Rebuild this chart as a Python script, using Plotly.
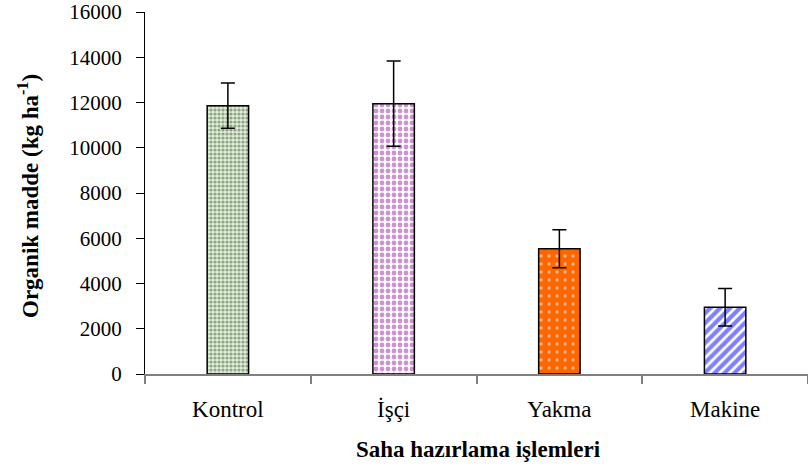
import plotly.graph_objects as go

categories = ["Kontrol", "İşçi", "Yakma", "Makine"]
values = [11860, 11950, 5540, 2950]
errors = [1000, 1880, 840, 830]
y_ticks = [0, 2000, 4000, 6000, 8000, 10000, 12000, 14000, 16000]

pattern_shapes = [".", ".", ".", "/"]
pattern_fg = ["#2f5f2c", "#98289f", "#ffffff", "#0000ff"]
pattern_bg = ["#e2ebd9", "#ffffff", "#ff6600", "#ffffff"]
pattern_size = [4, 6, 8, 7]
pattern_solidity = [0.5, 0.5, 0.15, 0.6]

font_family = "Liberation Serif, Times New Roman, serif"

fig = go.Figure()
for i, cat in enumerate(categories):
    fig.add_trace(go.Bar(
        x=[cat],
        y=[values[i]],
        width=0.25,
        marker=dict(
            color=pattern_bg[i],
            line=dict(color="#000000", width=1.5),
            pattern=dict(
                shape=pattern_shapes[i],
                fgcolor=pattern_fg[i],
                size=pattern_size[i],
                solidity=pattern_solidity[i],
                fillmode="overlay",
            ),
        ),
        error_y=dict(type="data", array=[errors[i]], visible=True,
                     color="#000000", thickness=1.5, width=7),
        showlegend=False,
    ))

L, R, T, B = 145, 0, 12, 96
W, H = 808, 470
pw = W - L - R
ph = H - T - B

fig.update_layout(
    width=W, height=H,
    barmode="overlay",
    margin=dict(l=L, r=R, t=T, b=B, pad=0),
    paper_bgcolor="white", plot_bgcolor="white",
    font=dict(family=font_family, color="#000000", size=21),
    xaxis=dict(
        type="category",
        categoryorder="array", categoryarray=categories,
        automargin=False,
        showline=True, linecolor="#808080", linewidth=1.5,
        ticks="outside", tickson="boundaries", ticklen=8,
        tickcolor="#808080", tickwidth=1.5,
        tickfont=dict(size=23),
        ticklabelstandoff=14,
        showgrid=False, zeroline=False,
        range=[-0.5, 3.5],
    ),
    yaxis=dict(
        range=[0, 16000],
        automargin=False,
        tickvals=y_ticks,
        tickformat="d",
        showline=True, linecolor="#000000", linewidth=1.2,
        ticks="outside", ticklen=8, tickcolor="#000000", tickwidth=1.2,
        tickfont=dict(size=21),
        ticklabelstandoff=10,
        showgrid=False, zeroline=False,
    ),
    annotations=[
        dict(text="<b>Saha hazırlama işlemleri</b>",
             xref="paper", yref="paper",
             x=(478 - L) / pw, y=-(449 - (T + ph)) / ph,
             xanchor="center", yanchor="middle",
             showarrow=False, font=dict(size=23)),
        dict(text="<b>Organik madde (kg ha<sup>-1</sup>)</b>",
             xref="paper", yref="paper",
             x=(28 - L) / pw, y=0.5 + (ph / 2 + T - 196) / ph,
             xanchor="center", yanchor="middle", textangle=-90,
             showarrow=False, font=dict(size=23)),
    ],
)

fig.write_html(
    "out.html",
    config={"displayModeBar": False},
    post_script="document.body.style.margin='0';document.body.style.overflow='hidden';",
)
